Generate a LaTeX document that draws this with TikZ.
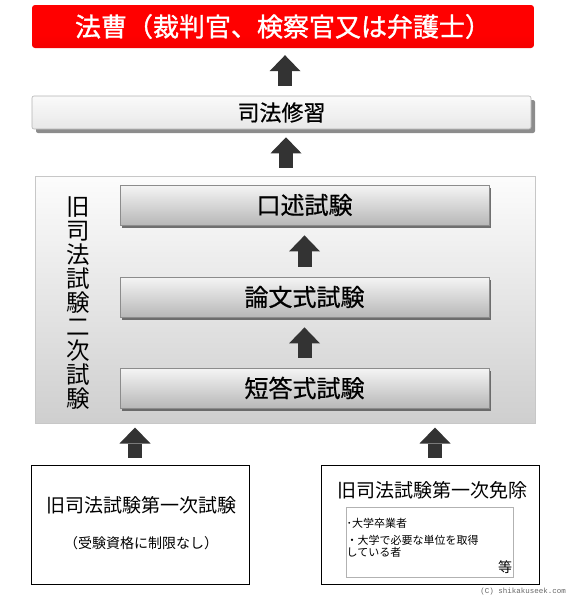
\documentclass[tikz,border=0pt]{standalone}
\usepackage{fontspec}
\setmainfont{Noto Sans CJK JP}
\newfontfamily\heavyfont[FakeBold=1.2]{Noto Sans CJK JP}
\newfontfamily\medfont[FakeBold=0.6]{Noto Sans CJK JP}
\newfontfamily\cmono{Liberation Mono}
\usetikzlibrary{arrows.meta,shadows}
\definecolor{arrowgray}{HTML}{333333}
\pgfdeclareverticalshading{titleshade}{100bp}{color(0bp)=(red!88!black); color(40bp)=(red); color(80bp)=(red); color(100bp)=(red!35!white)}
\tikzset{
  fs/.style={font=\fontsize{#1}{#1}\selectfont},
  examshape/.style={draw=black!45, line width=0.8pt, top color=black!4, bottom color=black!28,
    minimum width=369pt, minimum height=40pt, inner sep=0pt, font=\medfont\fontsize{24}{24}\selectfont,
    drop shadow={shadow xshift=1.5pt, shadow yshift=-2.5pt, fill=black!65, opacity=0.85}},
  plainbox/.style={draw=black, line width=1pt, fill=white, minimum width=218pt, minimum height=119pt, inner sep=0pt},
  bigarrow/.style={draw=arrowgray, line width=14pt, line cap=butt,
    -{Triangle[width=31pt,length=16pt,line width=0pt]}},
}
\begin{document}
\begin{tikzpicture}[x=1pt,y=-1pt]
\useasboundingbox (0,0) rectangle (570,600);
% title
\node[rounded corners=3pt, shading=titleshade, minimum width=502pt, minimum height=43pt, inner sep=0pt,
  font=\heavyfont\fontsize{26}{26}\selectfont, text=white] (title) at (283,26.5) {法曹（裁判官、検察官又は弁護士）};
% shuushuu
\node[draw=black!30, line width=0.6pt, rounded corners=2pt, top color=black!2, bottom color=black!9,
  minimum width=499pt, minimum height=33pt, inner sep=0pt, font=\medfont\fontsize{22}{22}\selectfont,
  drop shadow={shadow xshift=4pt, shadow yshift=-4pt, fill=black!60, opacity=0.75}] (shuushuu) at (281.5,112.5) {司法修習};
% container
\node[draw=black!22, line width=1pt, top color=black!1, bottom color=black!19,
  minimum width=500pt, minimum height=247pt, inner sep=0pt] (container) at (285,299.5) {};
\node[align=center, font=\fontsize{23.5}{24}\selectfont] (vlabel) at (78,303.5) {旧\\司\\法\\試\\験\\二\\次\\試\\験};
\node[examshape] (koujutsu) at (304.5,205) {口述試験};
\node[examshape] (ronbun) at (304.5,297) {論文式試験};
\node[examshape] (tantou) at (304.5,388) {短答式試験};
% bottom boxes
\node[plainbox] (left) at (140,524.5) {};
\node[fs=19] (lefttitle) at (141,505) {旧司法試験第一次試験};
\node[fs=14] (leftsub) at (141,543) {（受験資格に制限なし）};
\node[plainbox] (right) at (430,524.5) {};
\node[fs=19] (righttitle) at (432,490) {旧司法試験第一次免除};
\node[draw=black!30, line width=0.8pt, minimum width=167pt, minimum height=70pt, inner sep=0pt] (inner) at (429.5,542) {};
\node[fs=11, anchor=west, inner sep=0pt] (l1) at (346.5,523) {･大学卒業者};
\node[fs=11, anchor=west, inner sep=0pt] (l2) at (346.5,540) {・大学で必要な単位を取得};
\node[fs=11, anchor=west, inner sep=0pt] (l3) at (346.5,552) {している者};
\node[fs=14, inner sep=0pt] (etc) at (505,567.5) {等};
\node[font=\cmono\fontsize{7.5}{7.5}\selectfont, text=black!60, anchor=east, inner sep=0pt] (copy) at (566,592) {(C) shikakuseek.com};
% arrows
\draw[bigarrow, shorten <=10pt, shorten >=7pt] ([xshift=3.5pt]shuushuu.north) -- ([xshift=2pt]title.south);
\draw[bigarrow, shorten <=8pt, shorten >=8pt] ([xshift=1pt]container.north) -- ([xshift=4.5pt]shuushuu.south);
\draw[bigarrow, shorten <=10pt, shorten >=10pt] (ronbun.north) -- (koujutsu.south);
\draw[bigarrow, shorten <=10pt, shorten >=10pt] (tantou.north) -- (ronbun.south);
\draw[bigarrow, shorten <=7pt, shorten >=4pt] ([xshift=-5pt]left.north) -- ([xshift=-5pt]left.north |- container.south);
\draw[bigarrow, shorten <=7pt, shorten >=4pt] ([xshift=5pt]right.north) -- ([xshift=5pt]right.north |- container.south);
\end{tikzpicture}
\end{document}
